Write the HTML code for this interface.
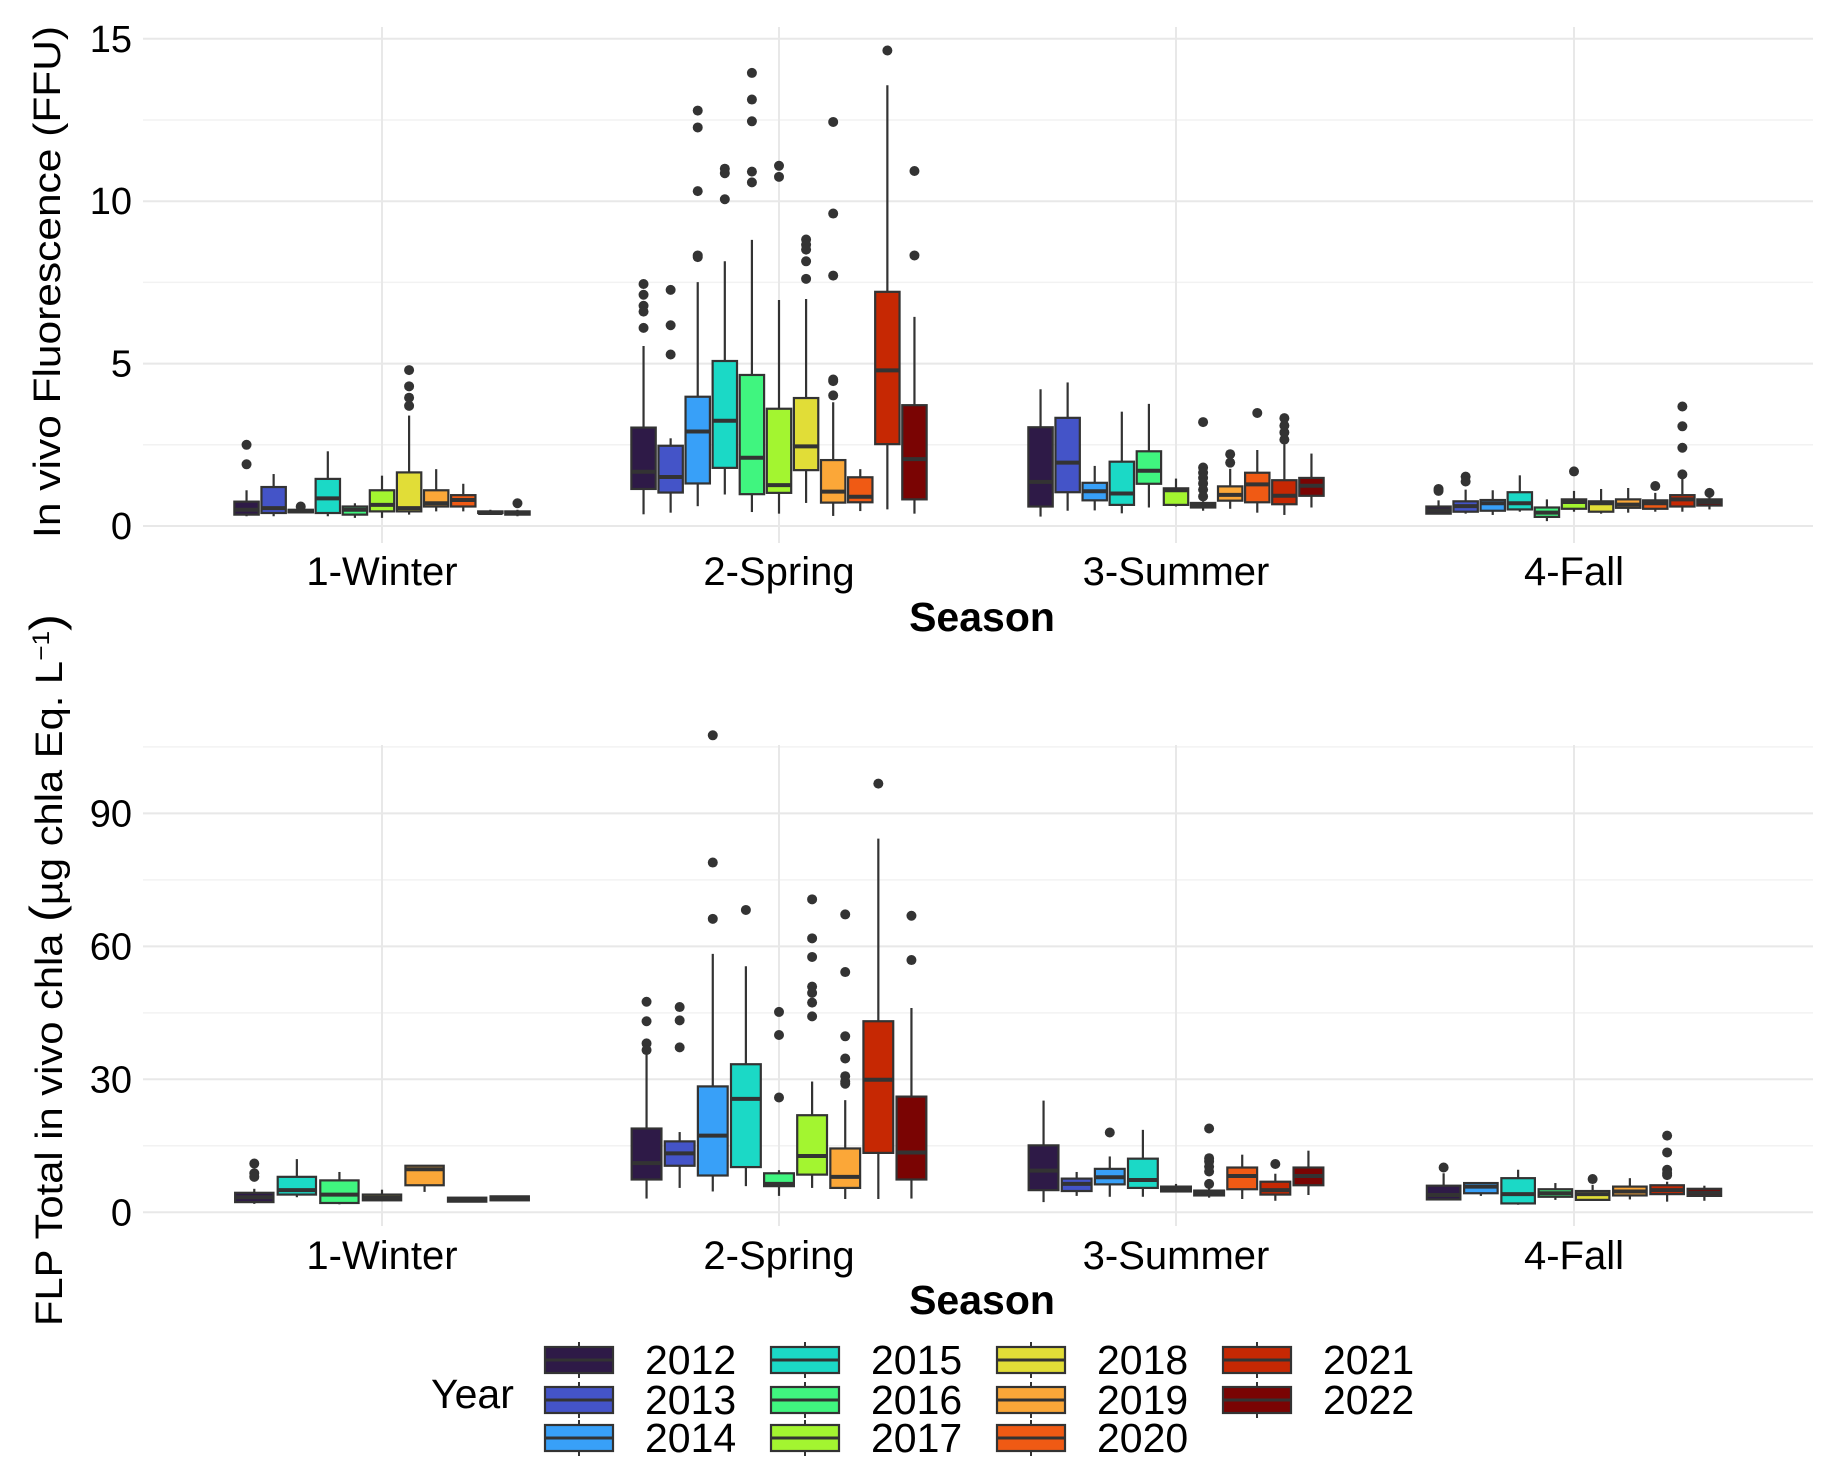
<!DOCTYPE html>
<html><head><meta charset="utf-8"><style>
html,body{margin:0;padding:0;background:#fff;}
svg text{font-family:"Liberation Sans",sans-serif;fill:#000;}
</style></head><body>
<svg id="chart" width="1836" height="1468" viewBox="0 0 1836 1468" xmlns="http://www.w3.org/2000/svg">
<rect x="0" y="0" width="1836" height="1468" fill="#fff"/>
<g id="gTop"></g>
<g id="gBot"></g>
<g id="gLeg"></g>
</svg>
<script>
const seasons = ["1-Winter","2-Spring","3-Summer","4-Fall"];
const years = [2012,2013,2014,2015,2016,2017,2018,2019,2020,2021,2022];
const yearColors = ["#2e1a47","#4454c8","#38a0f8","#1bd9c6","#40f57f","#a3f530","#e1dd37","#fba738","#f05a14","#c62803","#7a0403"];

// Top panel: In vivo Fluorescence (FFU)
const topTicks = [0,5,10,15];
const topYearsBySeason = [
  [2012,2013,2014,2015,2016,2017,2018,2019,2020,2021,2022],
  [2012,2013,2014,2015,2016,2017,2018,2019,2020,2021,2022],
  [2012,2013,2014,2015,2016,2017,2018,2019,2020,2021,2022],
  [2012,2013,2014,2015,2016,2017,2018,2019,2020,2021,2022]
];
// [lower whisker, q1, median, q3, upper whisker]
const topWinter = [[.3,.35,.5,.75,1.1],[.3,.4,.55,1.2,1.6],[.4,.42,.45,.5,.55],[.3,.4,.85,1.45,2.3],[.25,.35,.5,.6,.7],[.25,.45,.65,1.1,1.55],[.35,.45,.55,1.65,3.4],[.45,.6,.7,1.1,1.75],[.45,.6,.8,.95,1.3],[.35,.4,.4,.45,.5],[.3,.35,.4,.45,.5]];
const topSpring = [[.36,1.14,1.67,3.03,5.54],[.41,1.03,1.51,2.47,2.7],[.61,1.31,2.91,3.98,7.51],[.97,1.79,3.24,5.08,8.15],[.43,.98,2.1,4.65,8.81],[.38,1.02,1.26,3.61,6.96],[.71,1.72,2.45,3.94,6.99],[.31,.72,1.06,2.03,3.81],[.46,.73,.9,1.5,1.75],[.51,2.52,4.79,7.21,13.57],[.38,.82,2.06,3.72,6.44]];
const topSummer = [[.29,.6,1.36,3.04,4.21],[.47,1.04,1.95,3.33,4.42],[.48,.79,1.07,1.33,1.85],[.39,.65,1.0,1.98,3.52],[.57,1.3,1.7,2.3,3.76],[.6,.65,1.1,1.16,1.46],[.47,.57,.63,.71,.76],[.53,.78,.96,1.22,1.76],[.41,.73,1.28,1.64,2.34],[.34,.67,.93,1.41,2.52],[.57,.93,1.24,1.48,2.23]];
const topFall = [[.36,.38,.48,.6,.79],[.38,.44,.61,.76,1.12],[.34,.47,.7,.8,1.1],[.44,.51,.7,1.04,1.56],[.15,.28,.41,.57,.82],[.44,.53,.74,.82,1.08],[.38,.44,.7,.76,1.14],[.41,.56,.66,.82,1.17],[.44,.53,.7,.79,1.02],[.44,.6,.82,.95,1.52],[.51,.63,.74,.82,.95]];
const topWinterOut = [[1.9,2.5],[],[.6],[],[],[],[3.7,3.95,4.3,4.8],[],[],[],[.7]];
const topSpringOut = [[7.45,7.12,6.78,6.6,6.1],[7.27,6.18,5.28],[12.79,12.27,10.31,8.33,8.28],[11.0,10.86,10.06],[13.95,13.13,12.46,10.91,10.58],[11.09,10.75],[8.82,8.66,8.51,8.15,7.61],[4.02,4.46,4.51,7.71,9.62,12.44],[],[14.64],[10.93,8.33]];
const topSummerOut = [[],[],[],[],[],[],[3.2,1.8,1.64,1.48,1.31,1.12,.91],[1.95,2.21],[3.48],[2.66,2.88,3.09,3.32],[]];
const topFallOut = [[1.14,1.08],[1.52,1.37],[],[],[],[1.68],[],[],[1.23],[3.68,3.07,2.41,1.59],[1.02]];

// Bottom panel: FLP Total in vivo chla
const botTicks = [0,30,60,90];
const botYearsBySeason = [
  [2012,2015,2016,2018,2019,2021,2022],
  [2012,2013,2014,2015,2016,2017,2019,2021,2022],
  [2012,2013,2014,2015,2017,2018,2020,2021,2022],
  [2012,2014,2015,2016,2018,2019,2021,2022]
];
const botWinter = [[1.9,2.3,3.4,4.4,5.3],[3.4,4.0,5.0,8.0,12.0],[1.8,2.1,4.0,7.2,9.1],[2.5,2.7,3.3,4.0,5.1],[4.6,6.1,9.7,10.5,10.5],[2.4,2.4,2.8,3.3,3.3],[2.7,2.7,3.1,3.6,3.7]];
const botSpring = [[3.1,7.4,11.1,18.9,35.6],[5.5,10.5,13.3,16.0,18.1],[4.7,8.3,17.3,28.4,58.3],[5.9,10.2,25.6,33.4,55.5],[3.7,5.9,6.4,8.8,9.5],[5.5,8.5,12.7,21.9,29.5],[3.0,5.5,8.0,14.4,25.3],[3.0,13.4,29.9,43.1,84.3],[3.1,7.4,13.5,26.1,46.1]];
const botSummer = [[2.3,5.0,9.4,15.1,25.2],[3.7,4.8,6.4,7.6,9.1],[3.5,6.3,7.9,9.8,12.6],[3.5,5.5,7.3,12.1,18.6],[4.7,4.7,5.2,5.8,6.4],[3.3,3.8,4.4,4.9,5.4],[3.0,5.2,8.2,10.1,13.0],[2.6,4.0,5.0,6.9,8.7],[3.9,6.1,8.2,10.1,13.9]];
const botFall = [[2.8,2.9,3.9,6.0,8.8],[3.7,4.3,5.8,6.6,6.7],[1.7,2.0,4.1,7.7,9.6],[2.8,3.5,4.3,5.2,6.6],[2.8,2.8,4.1,4.8,6.2],[2.9,3.8,4.7,5.8,7.7],[2.4,4.1,5.0,6.1,6.9],[2.6,3.7,4.4,5.3,6.0]];
const botWinterOut = [[11.0,8.8,8.0],[],[],[],[],[],[]];
const botSpringOut = [[47.5,43.1,38.1,36.6],[46.3,43.3,37.2],[107.6,78.9,66.2],[68.2],[45.2,40.0,25.9],[70.6,61.8,57.6,50.9,49.5,47.3,44.2],[67.2,54.2,39.7,34.7,30.7,29.5,29.0],[96.7],[66.9,56.9]];
const botSummerOut = [[],[],[18.0],[],[],[18.9,12.2,11.5,10.3,9.2,6.4],[],[10.9],[]];
const botFallOut = [[10.1],[],[],[],[7.5],[],[17.3,13.5,9.6,8.8,8.4],[]];

const NS="http://www.w3.org/2000/svg";
function mk(tag, attrs, parent){const e=document.createElementNS(NS,tag);for(const k in attrs)e.setAttribute(k,attrs[k]);parent.appendChild(e);return e;}

const xLeft=143, xRight=1813;
const catCenters=[382,779,1176,1574];
const dodgeW=298;
function xCat(i){return catCenters[i];}

function drawPanel(g, cfg){
  const y=cfg.y;
  cfg.minor.forEach(v=>{
    const l=mk('line',{x1:xLeft,x2:xRight,y1:y(v),y2:y(v),stroke:'#f2f2f2','stroke-width':1.5},g);
    
    
  });
  cfg.ticks.forEach(v=>{
    const l=mk('line',{x1:xLeft,x2:xRight,y1:y(v),y2:y(v),stroke:'#e8e8e8','stroke-width':2},g);
    
    
    const t=mk('text',{x:132,y:y(v)+13,'text-anchor':'end','font-size':38},g);
    t.textContent=String(v);
    
    
  });
  seasons.forEach((s,i)=>{
    const l=mk('line',{x1:xCat(i),x2:xCat(i),y1:cfg.vTop,y2:cfg.vBot,stroke:'#e8e8e8','stroke-width':2},g);
    
    
    const t=mk('text',{x:xCat(i),y:cfg.catY,'text-anchor':'middle','font-size':40},g);
    t.textContent=s;
    
    
  });
  const st=mk('text',{x:982,y:cfg.seasonY,'text-anchor':'middle','font-size':41,'font-weight':'bold'},g);
  st.textContent='Season';
  
  
  const yt=mk('text',{x:0,y:0,'text-anchor':'middle','font-size':38,transform:`translate(${cfg.titleX},${cfg.titleY}) rotate(-90)`,textLength:cfg.titleLen,lengthAdjust:'spacingAndGlyphs'},g);
  yt.innerHTML=cfg.title;
  
  
  cfg.stats.forEach((arr,si)=>{
    const yrs=cfg.yrs[si];
    const n=yrs.length, slot=dodgeW/n, bw=slot*0.9;
    arr.forEach((b,k)=>{
      const cx=xCat(si)-dodgeW/2+slot*(k+0.5);
      const col=yearColors[years.indexOf(yrs[k])];
      const bg=mk('g',{},g);
      
      
      mk('line',{x1:cx,x2:cx,y1:y(b[0]),y2:y(b[1]),stroke:'#333','stroke-width':2.2},bg);
      mk('line',{x1:cx,x2:cx,y1:y(b[3]),y2:y(b[4]),stroke:'#333','stroke-width':2.2},bg);
      mk('rect',{x:cx-bw/2,y:y(b[3]),width:bw,height:Math.max(1,y(b[1])-y(b[3])),fill:col,stroke:'#333','stroke-width':2.2},bg);
      mk('line',{x1:cx-bw/2,x2:cx+bw/2,y1:y(b[2]),y2:y(b[2]),stroke:'#333','stroke-width':4},bg);
      cfg.outs[si][k].forEach(v=>{
        const c=mk('circle',{cx:cx,cy:y(v),r:5,fill:'#333'},bg);
        
        
      });
    });
  });
}

drawPanel(document.getElementById('gTop'),{
  y:v=>526-v*32.48, ticks:topTicks, minor:[2.5,7.5,12.5],
  vTop:27, vBot:543, catY:585, seasonY:631,
  title:'In vivo Fluorescence (FFU)', titleX:60, titleY:282, titleLen:512,
  stats:[topWinter,topSpring,topSummer,topFall], yrs:topYearsBySeason,
  outs:[topWinterOut,topSpringOut,topSummerOut,topFallOut]
});
drawPanel(document.getElementById('gBot'),{
  y:v=>1212.3-v*4.433, ticks:botTicks, minor:[15,45,75,105],
  vTop:745, vBot:1226, catY:1269, seasonY:1314,
  title:'FLP Total in vivo chla <tspan font-size="46">(</tspan>µg chla Eq. L<tspan baseline-shift="super" font-size="24">−1</tspan><tspan font-size="46">)</tspan>', titleX:62, titleY:970, titleLen:712,
  stats:[botWinter,botSpring,botSummer,botFall], yrs:botYearsBySeason,
  outs:[botWinterOut,botSpringOut,botSummerOut,botFallOut]
});

const leg=document.getElementById('gLeg');
const lt=mk('text',{x:431,y:1408,'font-size':41},leg);
lt.textContent='Year';


const keyCols=[545,771,997,1223], labCols=[645,871,1097,1323], rowY=[1360,1400,1438];
years.forEach((yr,i)=>{
  const c=Math.floor(i/3), r=i%3;
  const kx=keyCols[c], ky=rowY[r];
  const eg=mk('g',{},leg);
  
  
  mk('line',{x1:kx+34,x2:kx+34,y1:ky-18,y2:ky+18,stroke:'#333','stroke-width':2},eg);
  mk('rect',{x:kx,y:ky-13,width:68,height:26,fill:yearColors[i],stroke:'#333','stroke-width':2.2},eg);
  mk('line',{x1:kx,x2:kx+68,y1:ky,y2:ky,stroke:'#333','stroke-width':3},eg);
  const t=mk('text',{x:labCols[c],y:ky+14,'font-size':41},eg);
  t.textContent=String(yr);
});
</script>
</body></html>
